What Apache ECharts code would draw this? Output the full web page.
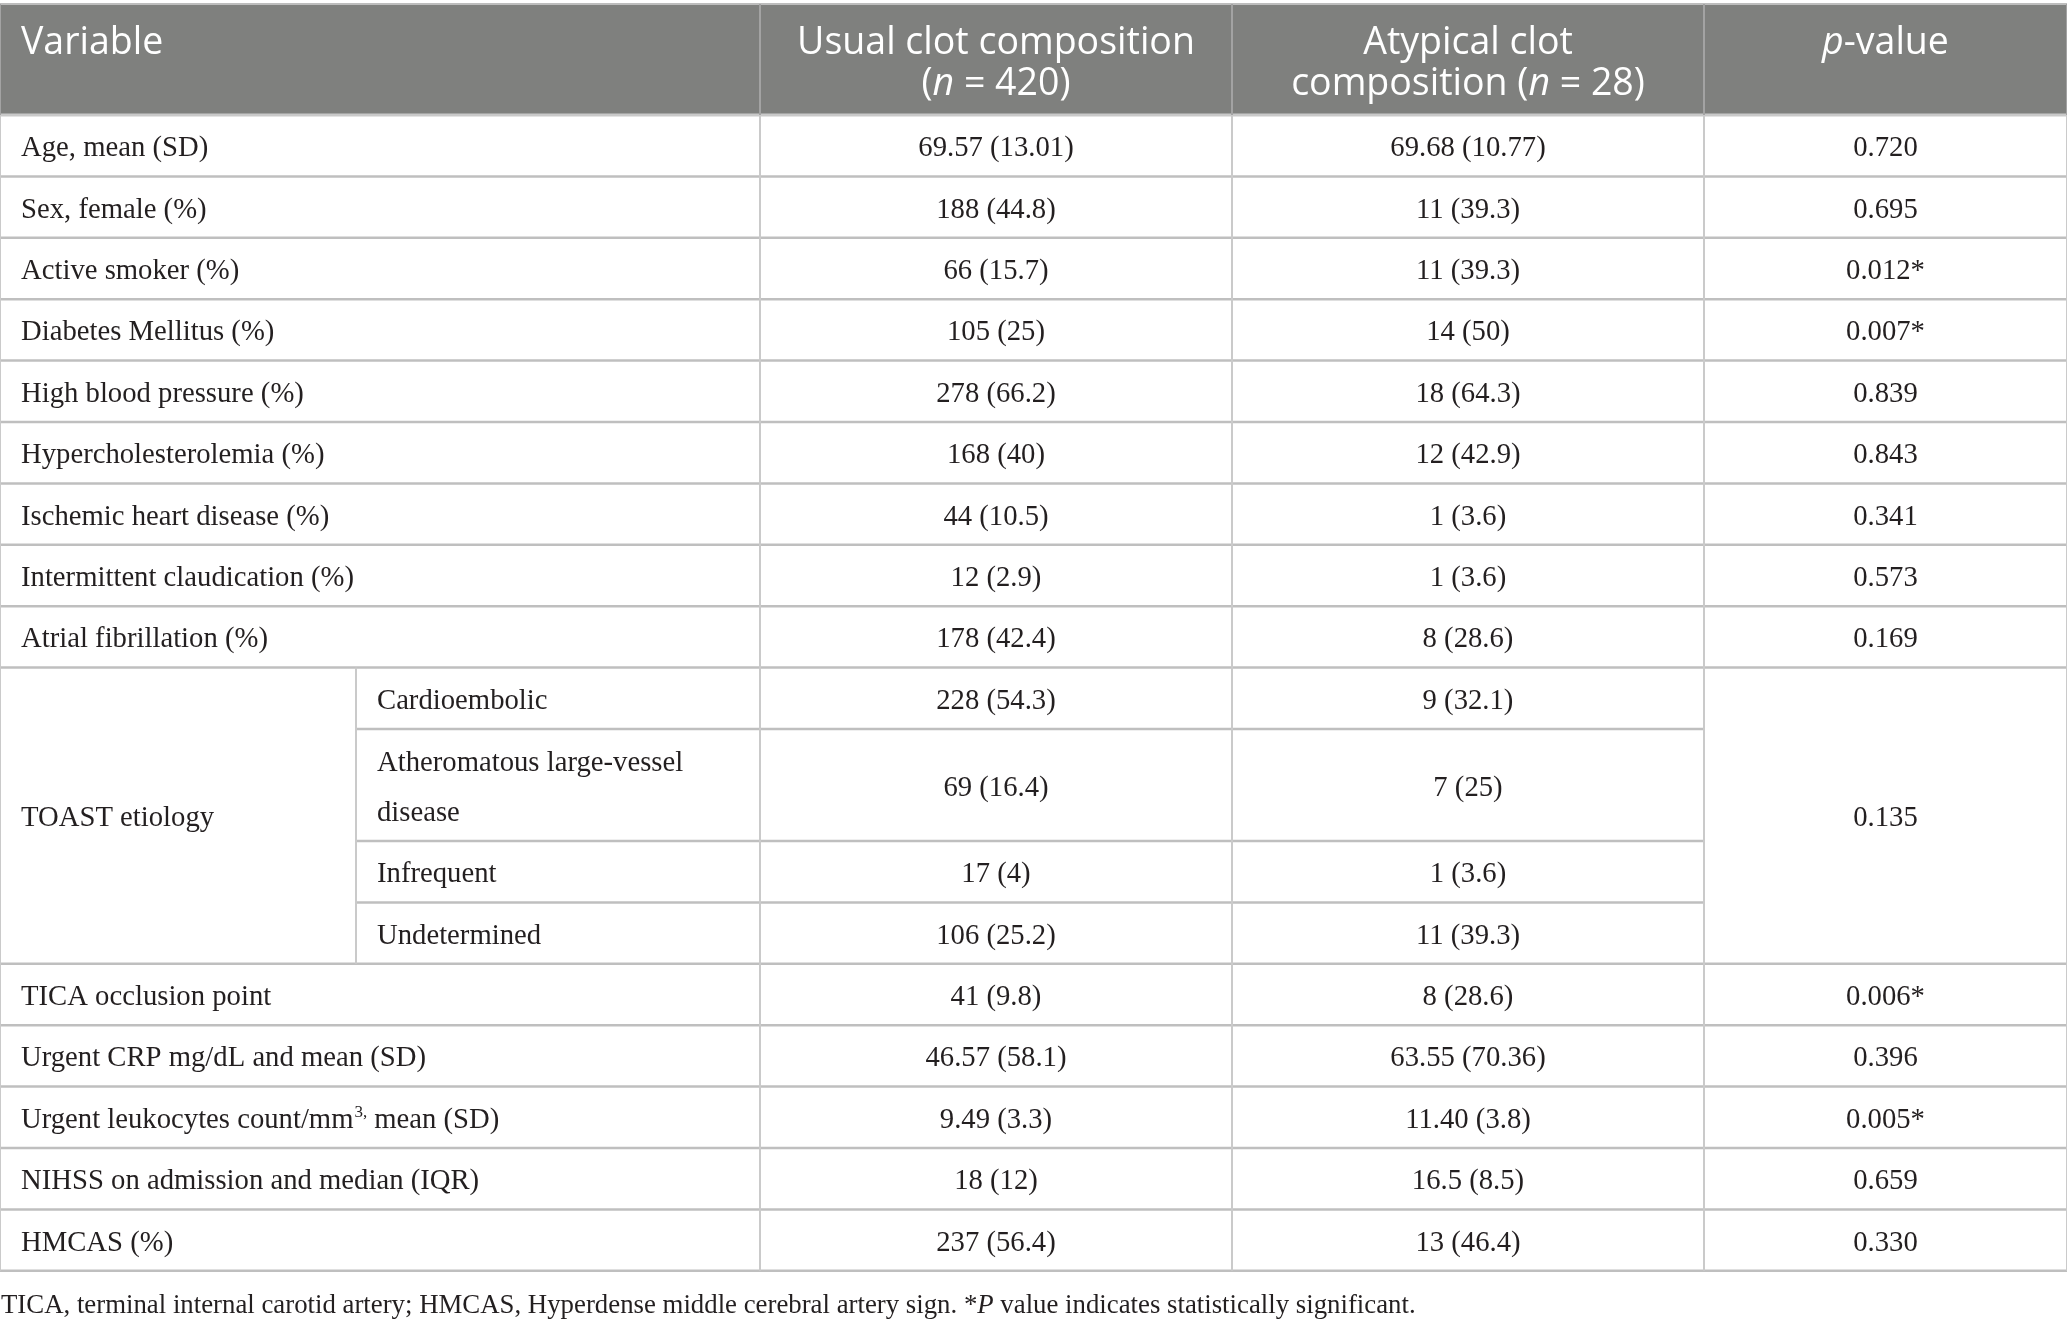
<!DOCTYPE html>
<html>
<head>
<meta charset="utf-8">
<title>Clot composition table</title>
<script src="https://cdn.jsdelivr.net/npm/echarts@6/dist/echarts.min.js"></script>
<style>
  html, body { margin: 0; padding: 0; background: #fff; }
  #chart { width: 2067px; height: 1326px; }
</style>
</head>
<body>
<div id="chart"></div>
<script>
// table contents
const headerLabels = ['Variable', 'Usual clot composition\n({i|n} = 420)', 'Atypical clot\ncomposition ({i|n} = 28)', '{i|p}-value'];

const topVariables = ['Age, mean (SD)', 'Sex, female (%)', 'Active smoker (%)', 'Diabetes Mellitus (%)',
  'High blood pressure (%)', 'Hypercholesterolemia (%)', 'Ischemic heart disease (%)',
  'Intermittent claudication (%)', 'Atrial fibrillation (%)'];
const topUsual = ['69.57 (13.01)', '188 (44.8)', '66 (15.7)', '105 (25)', '278 (66.2)', '168 (40)', '44 (10.5)', '12 (2.9)', '178 (42.4)'];
const topAtypical = ['69.68 (10.77)', '11 (39.3)', '11 (39.3)', '14 (50)', '18 (64.3)', '12 (42.9)', '1 (3.6)', '1 (3.6)', '8 (28.6)'];
const topP = ['0.720', '0.695', '0.012*', '0.007*', '0.839', '0.843', '0.341', '0.573', '0.169'];

const toastLabel = 'TOAST etiology';
const toastSubtypes = ['Cardioembolic', 'Atheromatous large-vessel\ndisease', 'Infrequent', 'Undetermined'];
const toastUsual = ['228 (54.3)', '69 (16.4)', '17 (4)', '106 (25.2)'];
const toastAtypical = ['9 (32.1)', '7 (25)', '1 (3.6)', '11 (39.3)'];
const toastP = '0.135';

const bottomVariables = ['TICA occlusion point', 'Urgent CRP mg/dL and mean (SD)',
  'Urgent leukocytes count/mm{sup|3,}mean (SD)', 'NIHSS on admission and median (IQR)', 'HMCAS (%)'];
const bottomUsual = ['41 (9.8)', '46.57 (58.1)', '9.49 (3.3)', '18 (12)', '237 (56.4)'];
const bottomAtypical = ['8 (28.6)', '63.55 (70.36)', '11.40 (3.8)', '16.5 (8.5)', '13 (46.4)'];
const bottomP = ['0.006*', '0.396', '0.005*', '0.659', '0.330'];

const footnote = 'TICA, terminal internal carotid artery; HMCAS, Hyperdense middle cerebral artery sign. *{i|P} value indicates statistically significant.';

// layout (in axis units = px)
const tableTop = 4;
const colEdges = [0, 356, 760, 1232, 1704, 2067];
const headerH = 111;
const rowH = 61.4;
const tallRowH = 112;

const serif = '"Liberation Serif", "Times New Roman", serif';
const sans = '"Open Sans", "Noto Sans", sans-serif';
const bodySize = 28.7;
const headSize = 37.5;
const noteSize = 26.8;

const cells = [];   // {x0, y0, x1, y1, text, align, kind}
const lines = [];   // {x0, y0, x1, y1, kind}

function addCell(x0, y0, x1, y1, text, align, kind){
  cells.push({x0, y0, x1, y1, text, align, kind});
}

// header
addCell(colEdges[0], 0, colEdges[2], headerH, headerLabels[0], 'left', 'head');
for (let c = 1; c < 4; c++) {
  addCell(colEdges[c + 1], 0, colEdges[c + 2], headerH, headerLabels[c], 'center', 'head');
}

let y = headerH;
lines.push({x0: 0, y0: 0, x1: colEdges[5], y1: 0, kind: 'top'});
lines.push({x0: 0, y0: y, x1: colEdges[5], y1: y, kind: 'headBottom'});

function addRows(labels, usual, atypical, pvals){
  labels.forEach((lab, i) => {
    addCell(colEdges[0], y, colEdges[2], y + rowH, lab, 'left', 'body');
    addCell(colEdges[2], y, colEdges[3], y + rowH, usual[i], 'center', 'body');
    addCell(colEdges[3], y, colEdges[4], y + rowH, atypical[i], 'center', 'body');
    addCell(colEdges[4], y, colEdges[5], y + rowH, pvals[i], 'center', 'body');
    y += rowH;
    lines.push({x0: 0, y0: y, x1: colEdges[5], y1: y, kind: 'h'});
  });
}

addRows(topVariables, topUsual, topAtypical, topP);

// TOAST block with merged cells
const toastTop = y;
toastSubtypes.forEach((lab, i) => {
  const h = lab.indexOf('\n') >= 0 ? tallRowH : rowH;
  addCell(colEdges[1], y, colEdges[2], y + h, lab, 'left', i === 1 ? 'tall' : 'body');
  addCell(colEdges[2], y, colEdges[3], y + h, toastUsual[i], 'center', 'body');
  addCell(colEdges[3], y, colEdges[4], y + h, toastAtypical[i], 'center', 'body');
  y += h;
  if (i < toastSubtypes.length - 1) {
    lines.push({x0: colEdges[1], y0: y, x1: colEdges[4], y1: y, kind: 'h'});
  }
});
addCell(colEdges[0], toastTop, colEdges[1], y, toastLabel, 'left', 'body');
addCell(colEdges[4], toastTop, colEdges[5], y, toastP, 'center', 'body');
lines.push({x0: 0, y0: y, x1: colEdges[5], y1: y, kind: 'h'});
lines.push({x0: colEdges[1], y0: toastTop, x1: colEdges[1], y1: y, kind: 'v'});

addRows(bottomVariables, bottomUsual, bottomAtypical, bottomP);
const tableH = y;

// vertical rules
[0, 2, 3, 4, 5].forEach(c => {
  lines.push({x0: colEdges[c], y0: 0, x1: colEdges[c], y1: headerH, kind: 'vHead'});
  lines.push({x0: colEdges[c], y0: headerH, x1: colEdges[c], y1: tableH, kind: 'v'});
});

const lineStyles = {
  top: {stroke: '#bdbdbd', lineWidth: 2},
  headBottom: {stroke: '#c9c9c9', lineWidth: 3},
  h: {stroke: '#bfbfbf', lineWidth: 2.5},
  v: {stroke: '#cacaca', lineWidth: 2},
  vHead: {stroke: '#a3a3a3', lineWidth: 2}
};

const chart = echarts.init(document.getElementById('chart'), null, {renderer: 'canvas'});

chart.setOption({
  animation: false,
  backgroundColor: '#ffffff',
  title: {
    text: footnote,
    left: 1,
    top: 1292,
    padding: 0,
    textStyle: {
      fontFamily: serif, fontSize: noteSize, fontWeight: 'normal', color: '#231f20',
      rich: {i: {fontFamily: serif, fontSize: noteSize, fontStyle: 'italic', color: '#231f20'}}
    }
  },
  grid: {left: 0, right: 0, top: tableTop, height: tableH},
  xAxis: {type: 'value', min: 0, max: colEdges[5], show: false},
  yAxis: {type: 'value', min: 0, max: tableH, inverse: true, show: false},
  series: [
    {
      type: 'custom',
      silent: true,
      coordinateSystem: 'cartesian2d',
      data: cells.map((c, i) => [c.x0, c.y0, c.x1, c.y1, i]),
      renderItem(params, api){
        const cell = cells[api.value(4)];
        const p0 = api.coord([api.value(0), api.value(1)]);
        const p1 = api.coord([api.value(2), api.value(3)]);
        const isHead = cell.kind === 'head';
        const tx = cell.align === 'left' ? p0[0] + 21 : (p0[0] + p1[0]) / 2;
        const ty = isHead ? p0[1] + 19 : (p0[1] + p1[1]) / 2 + 3;
        return {
          type: 'group',
          children: [
            {
              type: 'rect',
              shape: {x: p0[0], y: p0[1], width: p1[0] - p0[0], height: p1[1] - p0[1]},
              style: {fill: isHead ? '#7f807e' : '#ffffff'}
            },
            {
              type: 'text',
              x: tx,
              y: ty,
              style: {
                text: cell.text,
                align: cell.align,
                verticalAlign: isHead ? 'top' : 'middle',
                fontFamily: isHead ? sans : serif,
                fontSize: isHead ? headSize : bodySize,
                lineHeight: isHead ? 41 : (cell.kind === 'tall' ? 50 : 34),
                fill: isHead ? '#ffffff' : '#231f20',
                rich: {
                  i: {fontFamily: sans, fontSize: headSize, fontStyle: 'italic', fill: '#ffffff', lineHeight: 41},
                  sup: {fontFamily: serif, fontSize: 17, fill: '#231f20', padding: [0, 7, 16, 1]}
                }
              }
            }
          ]
        };
      }
    },
    {
      type: 'custom',
      silent: true,
      coordinateSystem: 'cartesian2d',
      data: lines.map((l, i) => [l.x0, l.y0, l.x1, l.y1, i]),
      renderItem(params, api){
        const ln = lines[api.value(4)];
        const p0 = api.coord([api.value(0), api.value(1)]);
        const p1 = api.coord([api.value(2), api.value(3)]);
        return {
          type: 'line',
          shape: {x1: p0[0], y1: p0[1], x2: p1[0], y2: p1[1]},
          style: lineStyles[ln.kind]
        };
      }
    }
  ]
});
</script>
</body>
</html>
